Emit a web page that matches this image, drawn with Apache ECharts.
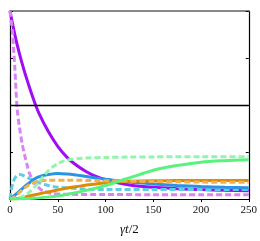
<!DOCTYPE html>
<html><head><meta charset="utf-8">
<script src="https://cdn.jsdelivr.net/npm/echarts@6/dist/echarts.min.js"></script>
<style>html,body{margin:0;padding:0;background:#fff}#c{width:260px;height:241px}</style>
</head><body><div id="c"></div>
<script>
// x ticks
const xTicks = [0, 50, 100, 150, 200, 250];
// series: [t, value]
const purpleSolid = [[0,1.0],[5,0.876],[10,0.77],[15,0.68],[20,0.60],[25,0.525],[30,0.46],[40,0.36],[50,0.28],[60,0.22],[70,0.178],[80,0.145],[90,0.12],[100,0.103],[110,0.09],[125,0.075],[150,0.062],[175,0.055],[200,0.05],[225,0.046],[250,0.044]];
const purpleDashed = [[0,1.0],[2.5,0.89],[5,0.70],[7.5,0.48],[10,0.38],[12.5,0.30],[15,0.24],[17.5,0.19],[20,0.142],[25,0.088],[30,0.06],[35,0.042],[45,0.029],[60,0.025],[100,0.024],[150,0.023],[200,0.023],[250,0.023]];
const cyanDashed = [[0,0],[1.5,0.05],[3,0.085],[5,0.11],[7.5,0.125],[10,0.13],[12.5,0.128],[15,0.122],[20,0.11],[25,0.098],[30,0.088],[40,0.072],[50,0.063],[65,0.057],[80,0.052],[100,0.05],[150,0.05],[200,0.05],[250,0.05]];
const blueSolid = [[0,0],[5,0.02],[10,0.042],[15,0.065],[20,0.085],[25,0.105],[30,0.118],[40,0.13],[50,0.136],[60,0.133],[70,0.127],[80,0.12],[90,0.112],[100,0.105],[110,0.099],[125,0.09],[150,0.08],[175,0.072],[200,0.066],[225,0.062],[250,0.06]];
const orangeDashed = [[0,0],[5,0.012],[10,0.035],[15,0.058],[20,0.075],[25,0.088],[30,0.095],[40,0.1],[60,0.1],[100,0.097],[150,0.093],[200,0.09],[250,0.089]];
const orangeSolid = [[0,0],[10,0.004],[20,0.016],[30,0.027],[40,0.038],[50,0.048],[60,0.058],[70,0.066],[80,0.074],[90,0.08],[100,0.086],[110,0.09],[125,0.094],[150,0.097],[175,0.098],[200,0.098],[250,0.098]];
const greenDashed = [[0,0],[5,0.002],[10,0.006],[15,0.018],[20,0.035],[25,0.06],[30,0.09],[35,0.12],[40,0.15],[45,0.172],[50,0.188],[55,0.2],[60,0.208],[70,0.215],[80,0.218],[100,0.221],[125,0.223],[150,0.224],[200,0.225],[250,0.225]];
const greenSolid = [[0,0],[10,0.001],[20,0.003],[30,0.006],[40,0.01],[50,0.016],[60,0.025],[70,0.035],[80,0.046],[90,0.058],[100,0.072],[110,0.088],[120,0.105],[130,0.12],[140,0.137],[150,0.153],[160,0.165],[175,0.178],[200,0.196],[225,0.204],[250,0.209]];

function line(data, color, dashed, z) {
  return {type:'line', data, showSymbol:false, smooth:0.3, z,
    lineStyle:{color, width:3, type: dashed ? [6,3] : 'solid', cap:'butt'}, silent:true};
}
const series = [
  line(purpleSolid,'#9f0cf5',false,2),
  line(purpleDashed,'#d884f5',true,3),
  line(cyanDashed,'#5fcde4',true,4),
  line(blueSolid,'#2a93e6',false,5),
  line(orangeSolid,'#de8a05',false,6),
  line(orangeDashed,'#f0b04a',true,7),
  line(greenDashed,'#92f5aa',true,8),
  line(greenSolid,'#5af27e',false,9)
];
series[0].markLine = {silent:true, symbol:'none', label:{show:false},
  lineStyle:{color:'#000', width:1.3, type:'solid'}, data:[{yAxis:0.5}]};

const chart = echarts.init(document.getElementById('c'), null, {renderer:'canvas'});
chart.setOption({
  animation:false,
  grid:{left:10, right:11, top:11, bottom:40, containLabel:false},
  xAxis:[{type:'value', min:xTicks[0], max:xTicks[xTicks.length-1], interval:50, position:'bottom',
    axisLine:{show:true, onZero:false, lineStyle:{color:'#000', width:1.2}},
    axisTick:{show:true, inside:false, length:3, lineStyle:{color:'#000'}},
    splitLine:{show:false},
    axisLabel:{fontFamily:'Liberation Serif', fontSize:11, color:'#111', margin:6},
    name:'{i|γt}{n|/2}', nameLocation:'middle', nameGap:24,
    nameTextStyle:{rich:{i:{fontFamily:'Liberation Serif', fontStyle:'italic', fontSize:13, color:'#111'},
                         n:{fontFamily:'Liberation Serif', fontSize:13, color:'#111'}}}},
   {type:'value', min:0, max:250, position:'top',
    axisLine:{show:true, onZero:false, lineStyle:{color:'#888', width:2}},
    axisTick:{show:false}, axisLabel:{show:false}, splitLine:{show:false}}],
  yAxis:[{type:'value', min:0, max:1, interval:0.25, position:'left',
    axisLine:{show:true, onZero:false, lineStyle:{color:'#000', width:1.2}},
    axisTick:{show:true, inside:true, length:3, lineStyle:{color:'#000'}},
    axisLabel:{show:false}, splitLine:{show:false}},
   {type:'value', min:0, max:1, interval:0.25, position:'right',
    axisLine:{show:true, onZero:false, lineStyle:{color:'#000', width:1.2}},
    axisTick:{show:true, inside:true, length:3, lineStyle:{color:'#000'}},
    axisLabel:{show:false}, splitLine:{show:false}}],
  series
});
</script></body></html>
